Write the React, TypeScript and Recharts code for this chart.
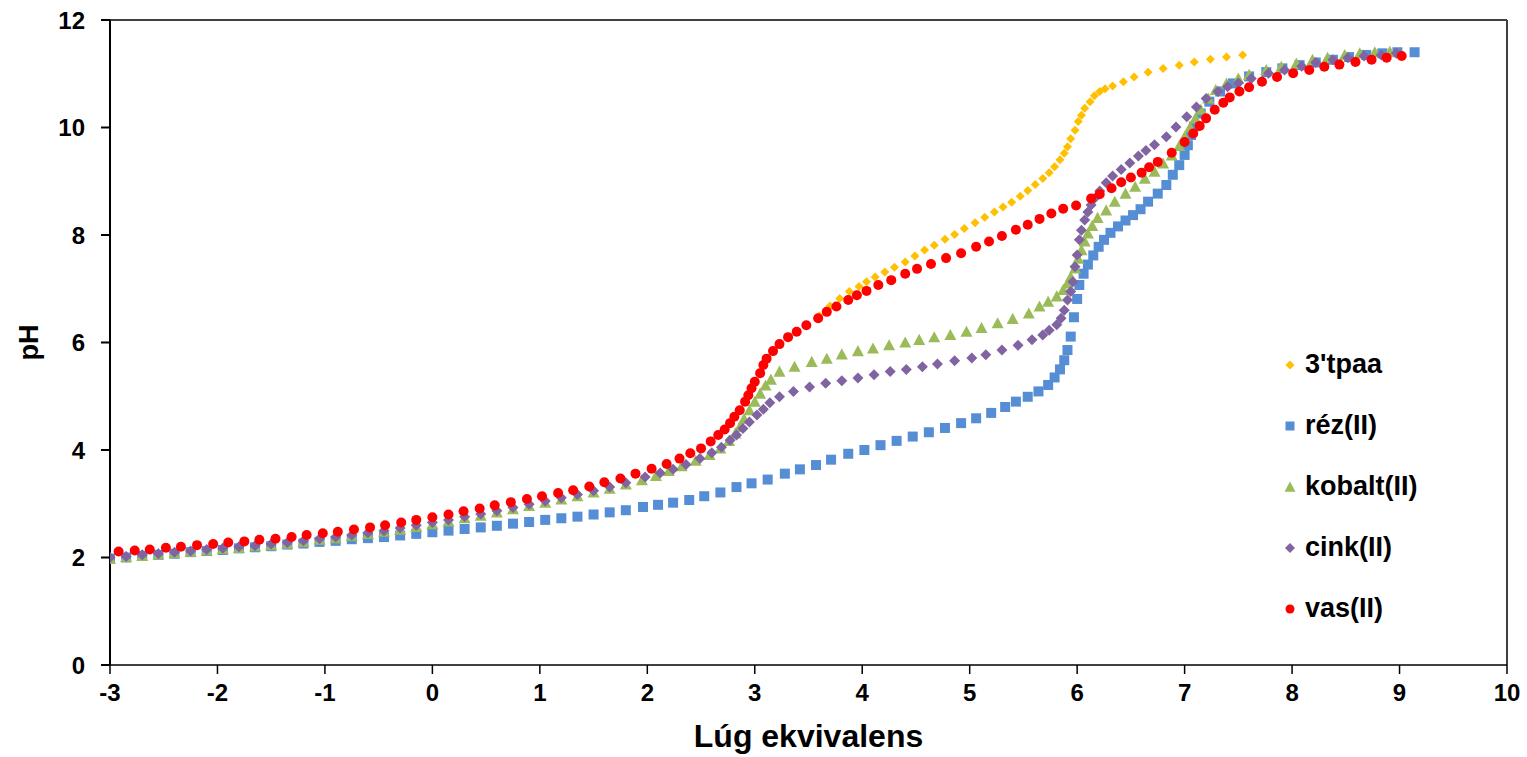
import React from "react";
import {
  ScatterChart,
  Scatter,
  XAxis,
  YAxis,
  Legend,
  ReferenceLine,
  Label,
} from "recharts";

// [lúg ekvivalens, pH] pairs
const tpaa: [number, number][] = [
  [-2.92, 2.11], [-2.48, 2.18], [-2.04, 2.25], [-1.61, 2.33], [-1.17, 2.42], [-0.73, 2.52],
  [-0.29, 2.65], [0.15, 2.8], [0.58, 2.97], [1.02, 3.14], [1.46, 3.32], [1.89, 3.56],
  [2.3, 3.84], [2.59, 4.16], [2.77, 4.5], [2.91, 4.9], [3.0, 5.27], [3.08, 5.58],
  [3.17, 5.84], [3.31, 6.1], [3.48, 6.32], [3.6, 6.5], [3.7, 6.68], [3.79, 6.82],
  [3.88, 6.95], [3.97, 7.04], [4.04, 7.13], [4.12, 7.22], [4.21, 7.31], [4.3, 7.4],
  [4.4, 7.5], [4.49, 7.61], [4.58, 7.72], [4.67, 7.81], [4.77, 7.92], [4.86, 8.01],
  [4.95, 8.12], [5.05, 8.23], [5.14, 8.33], [5.23, 8.43], [5.31, 8.52], [5.39, 8.61],
  [5.47, 8.72], [5.54, 8.83], [5.61, 8.94], [5.68, 9.05], [5.74, 9.16], [5.79, 9.27],
  [5.84, 9.4], [5.88, 9.52], [5.91, 9.64], [5.94, 9.79], [5.98, 9.95], [6.01, 10.11],
  [6.04, 10.23], [6.07, 10.36], [6.12, 10.48], [6.16, 10.59], [6.21, 10.67], [6.26, 10.72],
  [6.33, 10.77], [6.43, 10.85], [6.53, 10.94], [6.66, 11.03], [6.8, 11.1], [6.95, 11.16],
  [7.09, 11.22], [7.24, 11.27], [7.39, 11.31], [7.54, 11.35],
];

const rez: [number, number][] = [
  [-3.0, 1.98], [-2.85, 2.0], [-2.7, 2.03], [-2.55, 2.05], [-2.4, 2.07], [-2.25, 2.1],
  [-2.1, 2.12], [-1.95, 2.14], [-1.8, 2.17], [-1.65, 2.19], [-1.5, 2.21], [-1.35, 2.24],
  [-1.2, 2.26], [-1.05, 2.29], [-0.9, 2.31], [-0.75, 2.34], [-0.6, 2.36], [-0.45, 2.38],
  [-0.3, 2.41], [-0.15, 2.44], [0.0, 2.47], [0.15, 2.5], [0.3, 2.53], [0.45, 2.56],
  [0.6, 2.59], [0.75, 2.63], [0.9, 2.66], [1.05, 2.7], [1.2, 2.73], [1.35, 2.76],
  [1.5, 2.8], [1.65, 2.84], [1.8, 2.88], [1.96, 2.94], [2.1, 2.98], [2.24, 3.02],
  [2.39, 3.07], [2.53, 3.14], [2.68, 3.21], [2.83, 3.31], [2.97, 3.38], [3.12, 3.45],
  [3.28, 3.56], [3.42, 3.64], [3.57, 3.72], [3.71, 3.82], [3.87, 3.93], [4.02, 4.0],
  [4.17, 4.09], [4.32, 4.17], [4.47, 4.25], [4.62, 4.33], [4.77, 4.41], [4.92, 4.5],
  [5.06, 4.59], [5.2, 4.69], [5.33, 4.8], [5.43, 4.9], [5.54, 4.99], [5.64, 5.09],
  [5.73, 5.21], [5.79, 5.35], [5.84, 5.5], [5.88, 5.67], [5.91, 5.86], [5.94, 6.11],
  [5.97, 6.47], [6.0, 6.81], [6.02, 7.07], [6.06, 7.28], [6.1, 7.45], [6.15, 7.62],
  [6.2, 7.78], [6.25, 7.91], [6.31, 8.04], [6.38, 8.16], [6.45, 8.27], [6.52, 8.37],
  [6.59, 8.48], [6.66, 8.62], [6.75, 8.77], [6.83, 8.93], [6.89, 9.12], [6.95, 9.3],
  [7.0, 9.49], [7.03, 9.67], [7.06, 9.86], [7.09, 10.02], [7.15, 10.26], [7.23, 10.48],
  [7.33, 10.67], [7.45, 10.82], [7.6, 10.95], [7.76, 11.03], [7.91, 11.1], [8.07, 11.16],
  [8.22, 11.21], [8.38, 11.26], [8.53, 11.31], [8.69, 11.35], [8.84, 11.38], [8.98, 11.4],
  [9.14, 11.4],
];

const kobalt: [number, number][] = [
  [-3.0, 1.98], [-2.85, 2.01], [-2.7, 2.03], [-2.55, 2.06], [-2.4, 2.08], [-2.25, 2.11],
  [-2.1, 2.13], [-1.95, 2.16], [-1.8, 2.18], [-1.65, 2.21], [-1.5, 2.23], [-1.35, 2.26],
  [-1.2, 2.29], [-1.05, 2.33], [-0.9, 2.36], [-0.75, 2.4], [-0.6, 2.44], [-0.45, 2.48],
  [-0.3, 2.52], [-0.15, 2.57], [0.0, 2.62], [0.15, 2.67], [0.3, 2.73], [0.45, 2.78],
  [0.6, 2.84], [0.75, 2.9], [0.9, 2.96], [1.05, 3.02], [1.2, 3.08], [1.35, 3.14],
  [1.5, 3.21], [1.65, 3.28], [1.8, 3.36], [1.95, 3.44], [2.08, 3.52], [2.2, 3.61],
  [2.32, 3.7], [2.45, 3.8], [2.58, 3.91], [2.68, 4.03], [2.76, 4.17], [2.82, 4.31],
  [2.86, 4.43], [2.9, 4.58], [2.95, 4.74], [3.0, 4.9], [3.05, 5.05], [3.1, 5.2],
  [3.15, 5.31], [3.23, 5.46], [3.37, 5.55], [3.53, 5.64], [3.67, 5.7], [3.81, 5.78],
  [3.96, 5.84], [4.1, 5.89], [4.25, 5.95], [4.4, 6.0], [4.53, 6.05], [4.67, 6.1],
  [4.82, 6.14], [4.97, 6.2], [5.11, 6.27], [5.26, 6.36], [5.4, 6.44], [5.55, 6.54],
  [5.65, 6.67], [5.73, 6.76], [5.81, 6.86], [5.87, 6.98], [5.91, 7.1], [5.94, 7.22],
  [5.98, 7.38], [6.01, 7.56], [6.04, 7.72], [6.07, 7.88], [6.1, 8.03], [6.14, 8.17],
  [6.19, 8.32], [6.27, 8.46], [6.35, 8.62], [6.45, 8.77], [6.54, 8.9], [6.63, 9.05],
  [6.72, 9.18], [6.8, 9.33], [6.88, 9.48], [6.95, 9.66], [7.0, 9.83], [7.05, 10.0],
  [7.1, 10.17], [7.15, 10.33], [7.22, 10.54], [7.29, 10.7], [7.39, 10.82], [7.5, 10.91],
  [7.6, 10.98], [7.76, 11.07], [7.9, 11.13], [8.04, 11.19], [8.19, 11.26], [8.33, 11.3],
  [8.49, 11.35], [8.63, 11.38], [8.77, 11.4], [8.91, 11.41],
];

const cink: [number, number][] = [
  [-3.0, 2.0], [-2.85, 2.02], [-2.7, 2.05], [-2.55, 2.07], [-2.4, 2.1], [-2.25, 2.12],
  [-2.1, 2.15], [-1.95, 2.17], [-1.8, 2.2], [-1.65, 2.22], [-1.5, 2.25], [-1.35, 2.28],
  [-1.2, 2.31], [-1.05, 2.35], [-0.9, 2.38], [-0.75, 2.42], [-0.6, 2.46], [-0.45, 2.5],
  [-0.3, 2.55], [-0.15, 2.6], [0.0, 2.65], [0.15, 2.7], [0.3, 2.76], [0.45, 2.81],
  [0.6, 2.87], [0.75, 2.93], [0.9, 2.99], [1.05, 3.05], [1.2, 3.11], [1.35, 3.17],
  [1.5, 3.24], [1.65, 3.31], [1.8, 3.39], [1.98, 3.5], [2.12, 3.57], [2.24, 3.64],
  [2.36, 3.73], [2.49, 3.84], [2.6, 3.95], [2.69, 4.05], [2.77, 4.18], [2.83, 4.28],
  [2.89, 4.4], [2.95, 4.52], [3.02, 4.65], [3.08, 4.76], [3.14, 4.88], [3.23, 4.99],
  [3.36, 5.09], [3.51, 5.17], [3.66, 5.24], [3.81, 5.29], [3.96, 5.34], [4.11, 5.4],
  [4.26, 5.46], [4.41, 5.5], [4.56, 5.55], [4.7, 5.6], [4.86, 5.66], [5.02, 5.71],
  [5.15, 5.77], [5.3, 5.86], [5.45, 5.95], [5.58, 6.05], [5.68, 6.14], [5.74, 6.23],
  [5.81, 6.33], [5.85, 6.45], [5.88, 6.6], [5.91, 6.79], [5.94, 6.95], [5.96, 7.13],
  [5.98, 7.41], [6.0, 7.63], [6.02, 7.91], [6.04, 8.09], [6.07, 8.28], [6.1, 8.43],
  [6.13, 8.56], [6.16, 8.68], [6.21, 8.82], [6.27, 8.97], [6.33, 9.1], [6.41, 9.22],
  [6.49, 9.34], [6.57, 9.47], [6.64, 9.57], [6.72, 9.68], [6.83, 9.83], [6.92, 10.01],
  [7.02, 10.2], [7.11, 10.38], [7.2, 10.54], [7.31, 10.67], [7.4, 10.76], [7.5, 10.83],
  [7.62, 10.91], [7.78, 11.01], [7.93, 11.07], [8.09, 11.14], [8.22, 11.21], [8.38, 11.26],
  [8.52, 11.3], [8.67, 11.33], [8.83, 11.35], [8.97, 11.38],
];

const vas: [number, number][] = [
  [-2.92, 2.11], [-2.77, 2.13], [-2.63, 2.15], [-2.48, 2.18], [-2.34, 2.2], [-2.19, 2.23],
  [-2.04, 2.25], [-1.9, 2.28], [-1.75, 2.3], [-1.61, 2.33], [-1.46, 2.35], [-1.31, 2.38],
  [-1.17, 2.42], [-1.02, 2.45], [-0.88, 2.48], [-0.73, 2.52], [-0.58, 2.56], [-0.44, 2.6],
  [-0.29, 2.65], [-0.15, 2.7], [0.0, 2.75], [0.15, 2.8], [0.29, 2.86], [0.44, 2.91],
  [0.58, 2.97], [0.73, 3.03], [0.88, 3.09], [1.02, 3.14], [1.17, 3.2], [1.31, 3.25],
  [1.46, 3.32], [1.6, 3.4], [1.75, 3.47], [1.89, 3.56], [2.04, 3.65], [2.18, 3.74],
  [2.3, 3.84], [2.4, 3.94], [2.5, 4.03], [2.59, 4.16], [2.66, 4.28], [2.72, 4.38],
  [2.77, 4.5], [2.81, 4.62], [2.86, 4.74], [2.91, 4.9], [2.94, 5.02], [2.97, 5.15],
  [3.0, 5.27], [3.05, 5.43], [3.08, 5.58], [3.11, 5.7], [3.17, 5.84], [3.23, 5.97],
  [3.31, 6.1], [3.39, 6.2], [3.48, 6.32], [3.59, 6.45], [3.67, 6.57], [3.76, 6.67],
  [3.87, 6.79], [3.95, 6.88], [4.04, 6.96], [4.15, 7.07], [4.27, 7.16], [4.4, 7.28],
  [4.51, 7.37], [4.64, 7.46], [4.78, 7.57], [4.92, 7.66], [5.06, 7.78], [5.18, 7.88],
  [5.3, 7.98], [5.43, 8.1], [5.54, 8.19], [5.65, 8.3], [5.76, 8.4], [5.87, 8.49],
  [5.99, 8.55], [6.13, 8.68], [6.21, 8.76], [6.32, 8.87], [6.41, 8.98], [6.5, 9.07],
  [6.6, 9.16], [6.67, 9.26], [6.75, 9.36], [6.88, 9.53], [7.0, 9.73], [7.08, 9.89],
  [7.14, 10.03], [7.2, 10.17], [7.28, 10.33], [7.36, 10.46], [7.42, 10.56], [7.51, 10.67],
  [7.6, 10.75], [7.72, 10.85], [7.86, 10.94], [8.01, 11.01], [8.16, 11.07], [8.3, 11.13],
  [8.44, 11.17], [8.59, 11.22], [8.74, 11.26], [8.88, 11.3], [9.02, 11.33],
];

const xTicks = [-3, -2, -1, 0, 1, 2, 3, 4, 5, 6, 7, 8, 9, 10];
const yTicks = [0, 2, 4, 6, 8, 10, 12];

type MarkerKind = "diamond" | "square" | "triangle" | "circle";

function Marker({ kind, cx, cy, size, color }: { kind: MarkerKind; cx: number; cy: number; size: number; color: string }) {
  const h = size / 2;
  if (kind === "circle") return <circle cx={cx} cy={cy} r={h} fill={color} />;
  if (kind === "square") return <rect x={cx - h} y={cy - h} width={size} height={size} fill={color} />;
  if (kind === "triangle")
    return <polygon points={`${cx},${cy - h} ${cx + h},${cy + h * 0.85} ${cx - h},${cy + h * 0.85}`} fill={color} />;
  return <polygon points={`${cx},${cy - h} ${cx + h},${cy} ${cx},${cy + h} ${cx - h},${cy}`} fill={color} />;
}

const series = [
  { name: "3'tpaa", data: tpaa, color: "#FFC000", kind: "diamond" as MarkerKind, size: 9, legendSize: 9 },
  { name: "réz(II)", data: rez, color: "#558ED5", kind: "square" as MarkerKind, size: 10, legendSize: 9 },
  { name: "kobalt(II)", data: kobalt, color: "#9BBB59", kind: "triangle" as MarkerKind, size: 12, legendSize: 11 },
  { name: "cink(II)", data: cink, color: "#8064A2", kind: "diamond" as MarkerKind, size: 11, legendSize: 10 },
  { name: "vas(II)", data: vas, color: "#FF0000", kind: "circle" as MarkerKind, size: 10, legendSize: 9 },
];

const tickStyle = { fontSize: 24, fontWeight: "bold", fill: "#000" };

function LegendBox() {
  return (
    <div>
      {series.map((s) => (
        <div key={s.name} style={{ height: 61, display: "flex", alignItems: "center" }}>
          <svg width={16} height={16} style={{ marginRight: 7 }}>
            <Marker kind={s.kind} cx={8} cy={8} size={s.legendSize} color={s.color} />
          </svg>
          <span style={{ fontSize: 27, fontWeight: "bold", color: "#000" }}>{s.name}</span>
        </div>
      ))}
    </div>
  );
}

export default function App() {
  return (
    <div
      style={{
        position: "absolute",
        left: 0,
        top: 0,
        width: 1527,
        height: 757,
        background: "#fff",
        fontFamily: "'Liberation Sans', Arial, sans-serif",
      }}
    >
      <ScatterChart width={1527} height={757} margin={{ top: 20, right: 20, bottom: 0, left: 0 }}>
        <XAxis
          type="number"
          dataKey="x"
          domain={[-3, 10]}
          ticks={xTicks}
          height={92}
          stroke="#000"
          strokeWidth={1.5}
          tickSize={9}
          tickMargin={10}
          tick={tickStyle}
          allowDataOverflow
        >
          <Label
            value="Lúg ekvivalens"
            position="insideBottom"
            offset={10}
            style={{ fontSize: 32, fontWeight: "bold", fill: "#000" }}
          />
        </XAxis>
        <YAxis
          type="number"
          dataKey="y"
          domain={[0, 12]}
          ticks={yTicks}
          width={110}
          stroke="#000"
          strokeWidth={2}
          tickSize={9}
          tickMargin={16}
          tick={tickStyle}
          allowDataOverflow
        >
          <Label
            value="pH"
            angle={-90}
            position="insideLeft"
            offset={28}
            style={{ fontSize: 27, fontWeight: "bold", fill: "#000", textAnchor: "middle" }}
          />
        </YAxis>
        <ReferenceLine y={12} stroke="#404040" strokeWidth={2} />
        <ReferenceLine x={10} stroke="#404040" strokeWidth={2} />
        {series.map((s) => (
          <Scatter
            key={s.name}
            name={s.name}
            data={s.data.map(([x, y]) => ({ x, y }))}
            fill={s.color}
            isAnimationActive={false}
            shape={(p: any) => <Marker kind={s.kind} cx={p.cx} cy={p.cy} size={s.size} color={s.color} />}
          />
        ))}
        <Legend
          layout="vertical"
          align="center"
          verticalAlign="middle"
          content={() => <LegendBox />}
          wrapperStyle={{ left: 1282, top: 334, width: 230 }}
        />
      </ScatterChart>
    </div>
  );
}
